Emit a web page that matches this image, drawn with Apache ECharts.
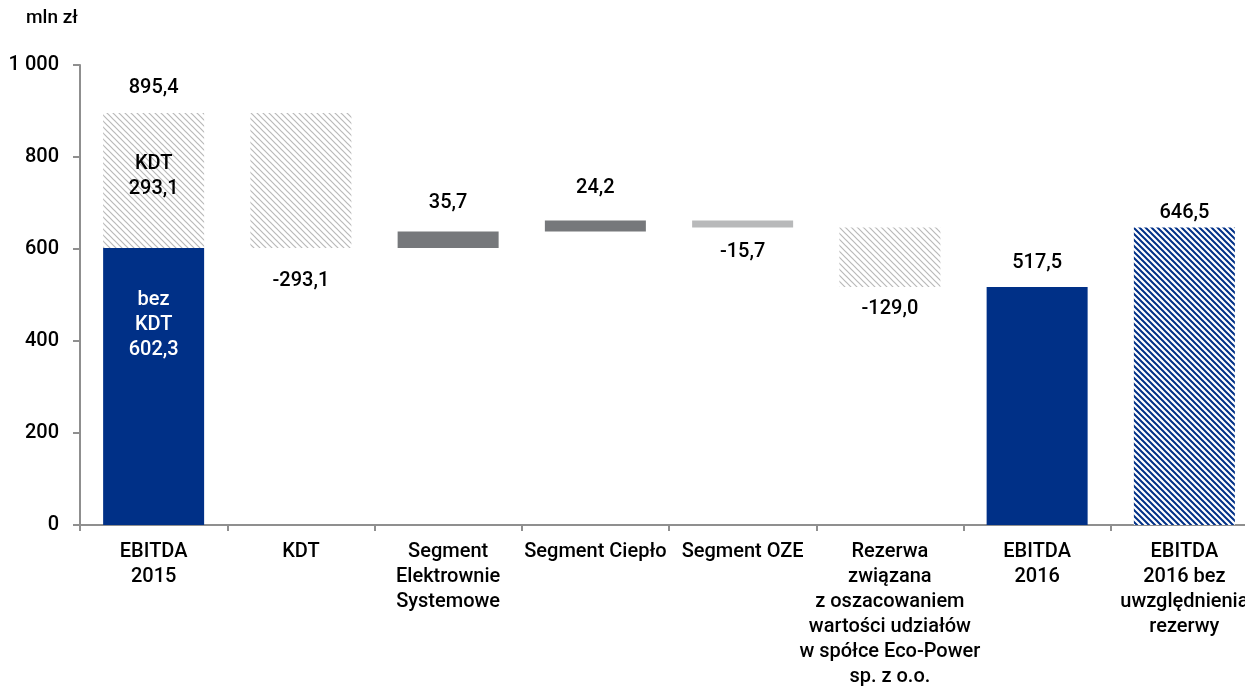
<!DOCTYPE html>
<html><head><meta charset="utf-8">
<script src="https://cdn.jsdelivr.net/npm/echarts@6/dist/echarts.min.js"></script>
<style>html,body{margin:0;padding:0;background:#fff}#c{width:1245px;height:690px}</style>
</head><body><div id="c"></div>
<script>
// ---- data ----
const categories = ["EBITDA\n2015", "KDT", "Segment\nElektrownie\nSystemowe", "Segment Ciepło", "Segment OZE",
  "Rezerwa\nzwiązana\nz oszacowaniem\nwartości udziałów\nw spółce Eco-Power\nsp. z o.o.", "EBITDA\n2016",
  "EBITDA\n2016 bez\nuwzględnienia\nrezerwy"];
const ebitda2015BezKdt = 602.3;
const ebitda2015Kdt = 293.1;
const ebitda2015Total = 895.4;
const changes = [-293.1, 35.7, 24.2, -15.7, -129.0]; // KDT, Elektrownie, Ciepło, OZE, Rezerwa
const ebitda2016 = 517.5;
const ebitda2016BezRezerwy = 646.5;
const yMin = 0, yMax = 1000, yStep = 200;
const unitLabel = "mln zł";

// ---- styles ----
const FONT = "Roboto";
const WEIGHT = 500;
const BLUE = "#003087";
const DARK = "#76787b";
const LIGHT = "#b8b9ba";
const labelGap = [12.5, 20.5, 16, 19.5, 11.5, 9.5, 11, 2];

function hatch(color, bg, step, lw) {
  const c = document.createElement('canvas');
  c.width = c.height = step;
  const ctx = c.getContext('2d');
  ctx.fillStyle = bg; ctx.fillRect(0, 0, step, step);
  ctx.strokeStyle = color; ctx.lineWidth = lw;
  ctx.beginPath();
  for (const k of [-step, 0, step]) { ctx.moveTo(k - 1, -1); ctx.lineTo(k + step + 1, step + 1); }
  ctx.stroke();
  return { image: c, repeat: 'repeat' };
}
const greyHatch = hatch('#b9b9b9', '#ffffff', 6, 1.2);
const blueHatch = hatch(BLUE, '#ffffff', 6, 2.0);

const fmt = v => Math.abs(v).toFixed(1).replace('.', ',');
const fmtSigned = v => (v < 0 ? '-' : '') + fmt(v);

// build waterfall
const baseData = [0];
const mainData = [];
const topData = [];
const changeStyles = [greyHatch, DARK, DARK, LIGHT, greyHatch];

mainData.push({ value: ebitda2015BezKdt, itemStyle: { color: BLUE },
  label: { show: true, position: 'insideTop', distance: 40, color: '#fff',
    formatter: 'bez\nKDT\n' + fmt(ebitda2015BezKdt) } });
topData.push({ value: ebitda2015Kdt, itemStyle: { color: greyHatch },
  label: { show: true, position: 'inside', offset: [0, -4], color: '#000',
    formatter: 'KDT\n' + fmt(ebitda2015Kdt) } });

let running = ebitda2015Total;
changes.forEach((d, i) => {
  const idx = i + 1;
  const base = d < 0 ? running + d : running;
  running += d;
  baseData.push(base);
  mainData.push({ value: Math.abs(d), itemStyle: { color: changeStyles[i] },
    label: { show: true, position: d < 0 ? 'bottom' : 'top', distance: labelGap[idx], formatter: fmtSigned(d) } });
  topData.push('-');
});
baseData.push(0, 0);
mainData.push({ value: ebitda2016, itemStyle: { color: BLUE },
  label: { show: true, position: 'top', distance: labelGap[6], formatter: fmt(ebitda2016) } });
mainData.push({ value: ebitda2016BezRezerwy, itemStyle: { color: blueHatch },
  label: { show: true, position: 'top', distance: labelGap[7], formatter: fmt(ebitda2016BezRezerwy) } });
topData.push('-', '-');

const totalLabelData = categories.map((c, i) => i === 0 ? 0 : '-');

const txt = { fontFamily: FONT, fontWeight: WEIGHT, fontSize: 20, color: '#000', lineHeight: 25 };

const chart = echarts.init(document.getElementById('c'), null, { renderer: 'canvas' });
chart.setOption({
  backgroundColor: '#fff',
  animation: false,
  title: { text: unitLabel, left: 21, top: 4, textStyle: { fontFamily: FONT, fontSize: 19, fontWeight: WEIGHT, color: '#000' } },
  grid: { left: 80, width: 1178, top: 65, height: 460, containLabel: false, outerBoundsMode: 'none' },
  xAxis: {
    type: 'category', data: categories,
    axisLine: { lineStyle: { color: '#8f8f8f', width: 2 } },
    axisTick: { show: true, length: 6, lineStyle: { color: '#8f8f8f', width: 2 } },
    axisLabel: Object.assign({ margin: 14, interval: 0 }, txt)
  },
  yAxis: {
    type: 'value', min: yMin, max: yMax, interval: yStep,
    axisLine: { show: true, lineStyle: { color: '#8f8f8f', width: 2 } },
    axisTick: { show: true, length: 7, lineStyle: { color: '#8f8f8f', width: 2 } },
    splitLine: { show: false },
    axisLabel: Object.assign({ margin: 21, formatter: v => String(v).replace(/\B(?=(\d{3})+(?!\d))/g, ' ') }, txt)
  },
  series: [
    { name: 'base', type: 'bar', stack: 'w', barWidth: 101, silent: true,
      itemStyle: { color: 'rgba(0,0,0,0)' }, data: baseData },
    { name: 'main', type: 'bar', stack: 'w', barWidth: 101,
      label: Object.assign({ show: true }, txt), data: mainData },
    { name: 'top', type: 'bar', stack: 'w', barWidth: 101,
      label: Object.assign({ show: false }, txt), data: topData },
    { name: 'total', type: 'bar', stack: 'w', barWidth: 101,
      itemStyle: { color: 'rgba(0,0,0,0)' },
      label: Object.assign({ show: true, position: 'top', distance: labelGap[0], formatter: () => fmt(ebitda2015Total) }, txt),
      data: totalLabelData }
  ]
});
</script></body></html>
